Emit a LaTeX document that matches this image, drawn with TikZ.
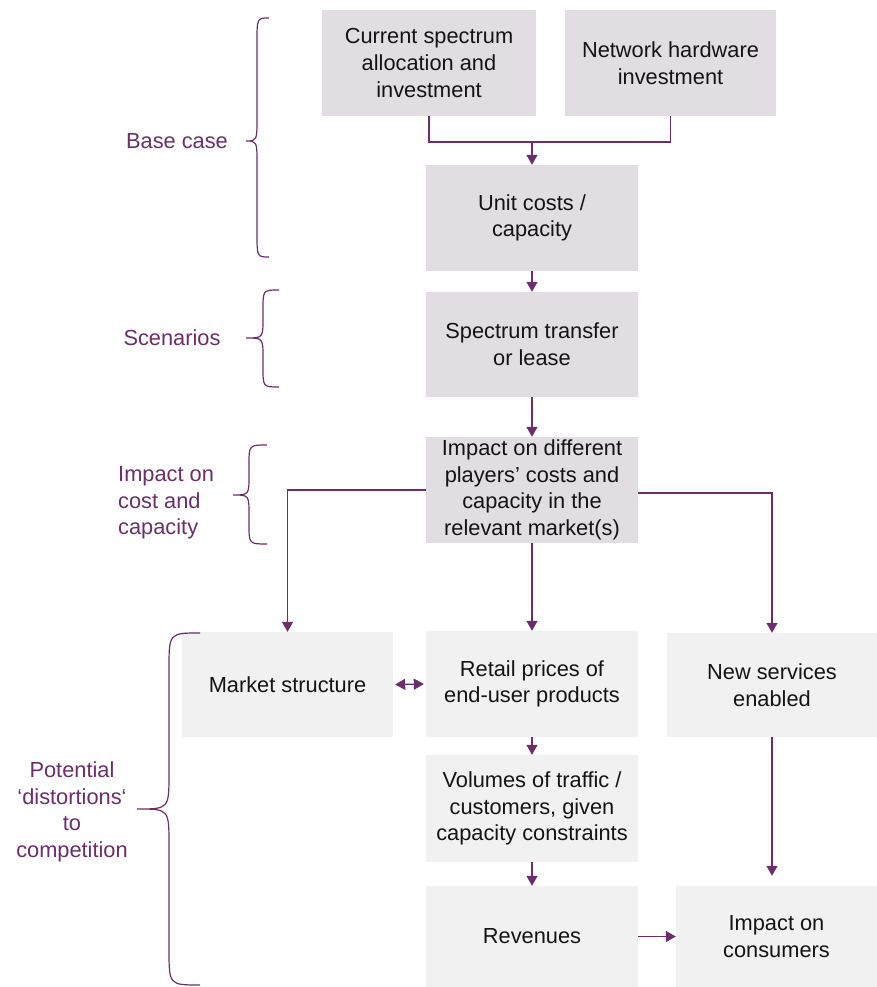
\documentclass[tikz,border=0pt]{standalone}
\usepackage{fontspec}
\setmainfont{Liberation Sans}
\usetikzlibrary{arrows.meta}
\definecolor{plum}{RGB}{107,45,107}
\definecolor{boxtop}{RGB}{225,221,226}
\definecolor{boxlow}{RGB}{241,241,241}
\definecolor{ink}{RGB}{20,20,20}
\newcommand\mybrace[7]{% xtip, xv, xend, ytop, ymid, ybot, r
  \draw[bracestyle] (#3,#4) .. controls (#2,#4) .. (#2,{#4+#7}) -- (#2,{#5-#7})
    .. controls (#2,#5) .. (#1,#5) .. controls (#2,#5) .. (#2,{#5+#7})
    -- (#2,{#6-#7}) .. controls (#2,#6) .. (#3,#6);}
\begin{document}
\begin{tikzpicture}[x=1pt,y=-1pt,
  txt/.style={font=\fontsize{21.8}{26.7}\selectfont, text=ink, align=center, inner sep=0pt},
  topbox/.style={txt, fill=boxtop, minimum width=212pt, minimum height=106pt},
  lowbox/.style={txt, fill=boxlow, minimum width=212pt, minimum height=106pt},
  lbl/.style={font=\fontsize{21.8}{26.7}\selectfont, text=plum, inner sep=0pt},
  bracestyle/.style={draw=plum, line width=1.2pt},
  conn/.style={draw=plum, line width=1.3pt},
  arr/.style={conn, -{Triangle[width=11pt,length=10pt]}},
  darr/.style={conn, {Triangle[width=11pt,length=10pt]}-{Triangle[width=11pt,length=10pt]}}]
\useasboundingbox (0,0) rectangle (877,987);

% boxes
\node[topbox, minimum width=214pt] (b1) at (429,63) {Current spectrum\\allocation and\\investment};
\node[topbox, minimum width=211pt] (b2) at (670.5,63) {Network hardware\\investment};
\node[topbox] (b3) at (532,218) {Unit costs /\\capacity};
\node[topbox, minimum height=105pt] (b4) at (532,344.5) {Spectrum transfer\\or lease};
\node[topbox] (b5) at (532,490) {Impact on different\\players’ costs and\\capacity in the\\relevant market(s)};
\node[lowbox, minimum width=211pt, minimum height=105pt] (ms) at (287.5,684.5) {Market structure};
\node[lowbox] (rp) at (532,684) {Retail prices of\\end-user products};
\node[lowbox, minimum width=210pt, minimum height=104pt] (ns) at (772,685) {New services\\enabled};
\node[lowbox, minimum height=107pt] (vo) at (532,808.5) {Volumes of traffic /\\customers, given\\capacity constraints};
\node[lowbox, minimum height=101pt] (rv) at (532,936.5) {Revenues};
\node[lowbox, minimum width=201pt, minimum height=101pt] (io) at (776.5,936.5) {Impact on\\consumers};

% connectors
\coordinate (j) at (532,142);
\draw[conn] (b1.south) |- (j);
\draw[conn] (b2.south) |- (j);
\draw[arr] (j) -- (b3.north);
\draw[arr] (b3.south) -- (b4.north);
\draw[arr] (b4.south) -- (b5.north);
\draw[arr] (b5.west) -| (ms.north);
\draw[arr] ([yshift=-3pt]b5.east) -| (ns.north);
\draw[arr] (b5.south) -- (rp.north);
\draw[darr] ([xshift=2pt]ms.east) -- ([xshift=-2pt]rp.west);
\draw[arr] (rp.south) -- (vo.north);
\draw[arr] (vo.south) -- (rv.north);
\draw[arr] (rv.east) -- (io.west);
\draw[arr] (ns.south) -- ([yshift=10pt]ns.south |- io.north);

% braces
\mybrace{246}{257}{269}{18}{141}{257}{24}
\mybrace{246}{263}{279}{290}{338}{387}{20}
\mybrace{233}{249}{267}{445}{495}{544}{20}
\mybrace{137}{169}{200}{633}{809}{985}{36}

% labels
\node[lbl] (lbase) at (177,141) {Base case};
\node[lbl] (lscen) at (172,338) {Scenarios};
\node[lbl, anchor=west, align=left] (limp) at (118,503) {Impact on\\cost and\\capacity};
\node[lbl, align=center] (lpot) at (72,812) {Potential\\‘distortions‘\\to\\competition};
\end{tikzpicture}
\end{document}
